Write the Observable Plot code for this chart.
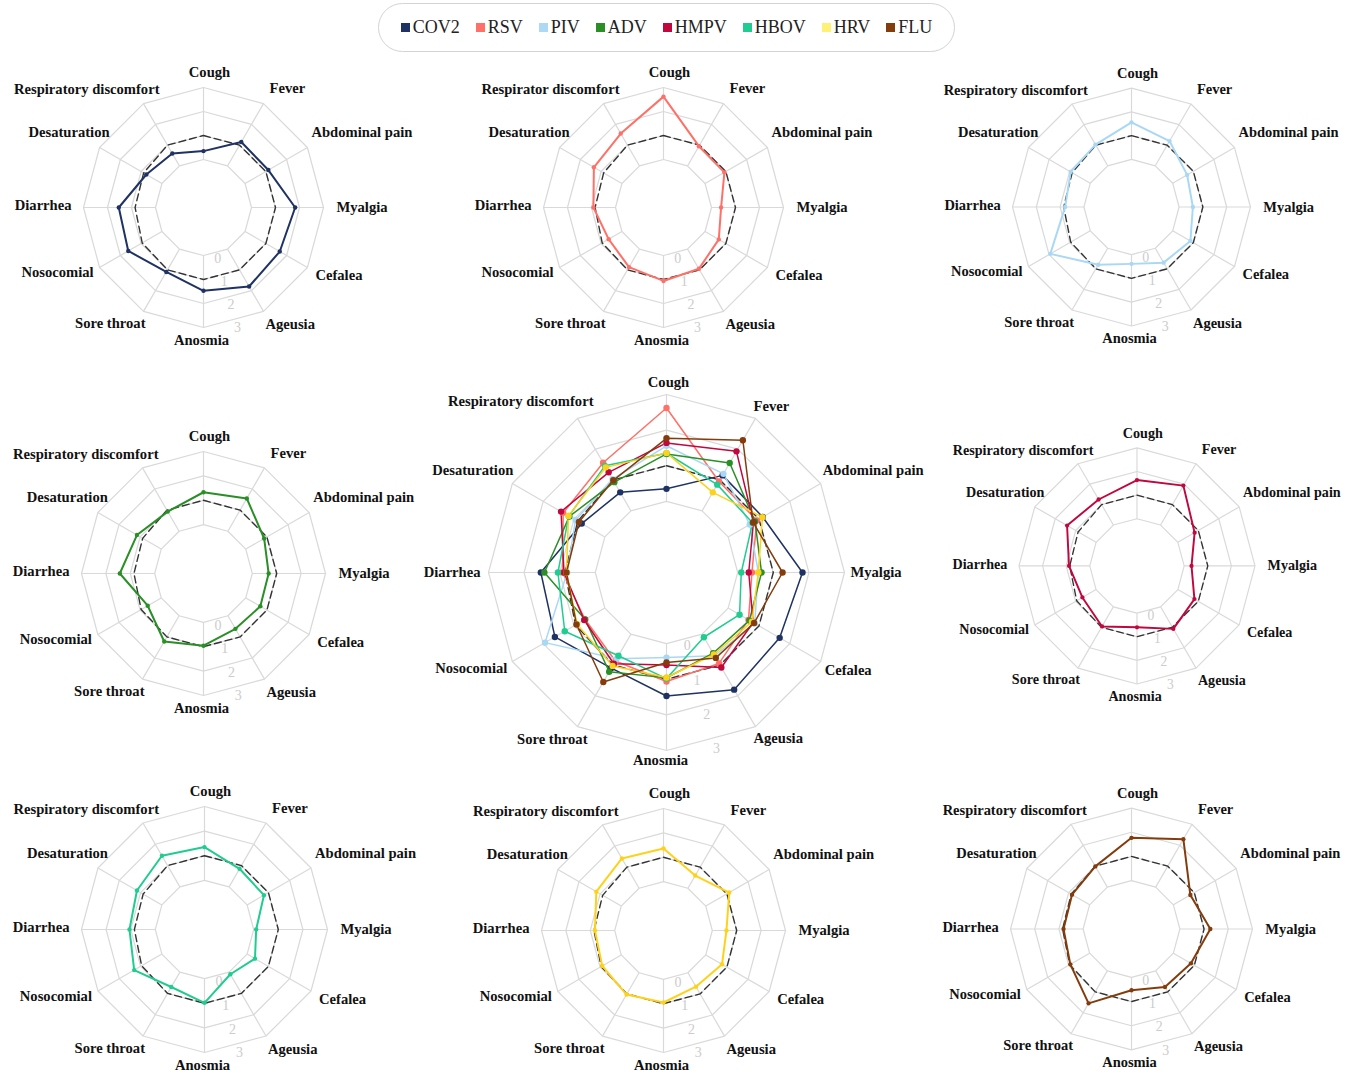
<!DOCTYPE html>
<html><head><meta charset="utf-8">
<script src="https://cdn.jsdelivr.net/npm/d3@7"></script>
<script src="https://cdn.jsdelivr.net/npm/@observablehq/plot@0.6"></script>
<style>
body{margin:0;background:#fff;}
#wrap{position:relative;width:1359px;height:1074px;overflow:hidden;font-family:"Liberation Serif","Times New Roman",serif;}
#legend{position:absolute;left:378px;top:3px;width:577px;height:49px;box-sizing:border-box;border:1.5px solid #d3d3d3;border-radius:25px;display:flex;align-items:center;justify-content:center;gap:16px;font-size:18px;color:#222;}
.item{display:flex;align-items:center;}
.sw{width:9px;height:9px;margin-right:3px;}
.chart{position:absolute;}
</style></head><body><div id="wrap"><div id="legend"></div></div>
<script>
// ---- data ----
const axes = ["Cough","Fever","Abdominal pain","Myalgia","Cefalea","Ageusia","Anosmia","Sore throat","Nosocomial","Diarrhea","Desaturation","Respiratory discomfort"];
const axesRSV = ["Cough","Fever","Abdominal pain","Myalgia","Cefalea","Ageusia","Anosmia","Sore throat","Nosocomial","Diarrhea","Desaturation","Respirator discomfort"];
const viruses = ["COV2","RSV","PIV","ADV","HMPV","HBOV","HRV","FLU"];
const COV2 = [0.35,1.15,1.12,1.82,1.67,1.80,1.47,1.10,1.62,1.53,0.75,0.60];
const RSV  = [2.62,0.95,0.93,0.40,0.66,0.95,1.06,0.87,0.64,0.92,1.35,1.56];
const PIV  = [1.56,1.20,0.70,0.58,0.86,0.70,0.39,0.80,1.94,0.79,0.95,1.03];
const ADV  = [1.33,1.55,0.87,0.67,0.69,0.62,0.96,1.22,0.64,1.43,1.15,0.93];
const HMPV = [1.64,1.93,0.82,0.31,0.81,1.08,0.60,0.96,0.67,0.88,1.42,1.25];
const HBOV = [1.35,0.85,0.79,0.10,0.37,0.10,0.98,0.70,1.30,1.05,1.17,1.46];
const HRV  = [1.36,0.60,1.11,0.58,0.77,0.66,0.95,1.03,0.90,0.81,1.18,1.41];
const FLU  = [1.77,2.29,0.81,1.26,0.84,0.77,0.53,1.55,0.92,0.81,0.84,0.99];
const reference = [1,1,1,1,1,1,1,1,0.95,0.85,0.88,1];
const ticks = [0,1,2,3];
const axisMin = -2;

// ---- styles ----
const seriesValues = {COV2, RSV, PIV, ADV, HMPV, HBOV, HRV, FLU};
const colors = ["#1f3264","#ff7068","#a9d8f5","#2a8f26","#c0073e","#20cc8f","#ffd21a","#843c0c"];
const legendColors = ["#1f3264","#ff7068","#aed9f5","#2a8f26","#c0073e","#20cc8f","#fff176","#843c0c"];
const serif = "'Liberation Serif','Times New Roman',serif";
const smallCfg = [[6,-15,"middle"],[6,-15,"start"],[4,-15,"start"],[13,0,"start"],[8,8,"start"],[2,13,"start"],[-2,13,"middle"],[2,12,"end"],[-6,5,"end"],[-12,-2,"end"],[10,-15,"end"],[16,-14,"end"]];
const bigCfg = [[2,-12,"middle"],[-2,-12,"start"],[2,-13,"start"],[6,0,"start"],[4,9,"start"],[-2,12,"start"],[-6,10,"middle"],[10,13,"end"],[-5,7,"end"],[-8,0,"end"],[1,-13,"end"],[16,-17,"end"]];

const deg = Math.PI/180;
const px = (v,i) => (v - axisMin) * Math.sin(i*30*deg);
const py = (v,i) => (v - axisMin) * Math.cos(i*30*deg);
const rMax = ticks[ticks.length-1] - axisMin;

function radar({names, R, W, H, labels, cfg, lw, dotR}) {
  const cx = W/2, cy = H/2;
  const rows = names.flatMap(n => seriesValues[n].map((v,i) => ({virus:n, i, value:v})));
  const rings = ticks.flatMap(t => axes.map((a,i) => ({t, i})));
  const ref = reference.map((v,i) => ({i, value:v}));
  const labelMarks = labels.map((lab,i) => Plot.text([lab], {
    x: px(ticks[3],i), y: py(ticks[3],i), text: d => d,
    dx: cfg[i][0], dy: cfg[i][1], textAnchor: cfg[i][2],
    fontWeight: "bold", fontSize: 14.6, fontFamily: serif, fill: "#111"
  }));
  return Plot.plot({
    width: W, height: H,
    x: {domain: [-rMax, rMax], range: [cx-R, cx+R], axis: null},
    y: {domain: [-rMax, rMax], range: [cy+R, cy-R], axis: null},
    color: {domain: viruses, range: colors},
    style: {background: "transparent", overflow: "visible", fontFamily: serif},
    marks: [
      Plot.line(rings, {x: d => px(d.t,d.i), y: d => py(d.t,d.i), z: "t", stroke: "#d9d9d9", strokeWidth: 1.2, curve: "linear-closed"}),
      Plot.link(axes, {x1: (d,i) => px(ticks[0],i), y1: (d,i) => py(ticks[0],i), x2: (d,i) => px(ticks[3],i), y2: (d,i) => py(ticks[3],i), stroke: "#d9d9d9", strokeWidth: 1.2}),
      Plot.text(ticks, {x: t => (t-axisMin)*Math.sin(164*deg), y: t => (t-axisMin)*Math.cos(164*deg), text: d => String(d), dx: 1, dy: 5, fill: "#cccccc", fontSize: 14, fontFamily: serif}),
      Plot.line(ref, {x: d => px(d.value,d.i), y: d => py(d.value,d.i), stroke: "#333", strokeDasharray: "7,4", strokeWidth: 1.4, curve: "linear-closed"}),
      Plot.line(rows, {x: d => px(d.value,d.i), y: d => py(d.value,d.i), z: "virus", stroke: "virus", strokeWidth: lw, curve: "linear-closed"}),
      Plot.dot(rows, {x: d => px(d.value,d.i), y: d => py(d.value,d.i), fill: "virus", r: dotR}),
      ...labelMarks
    ]
  });
}

const wrap = document.getElementById("wrap");
const legend = document.getElementById("legend");
viruses.forEach((v,k) => {
  const it = document.createElement("div"); it.className = "item";
  const sw = document.createElement("span"); sw.className = "sw"; sw.style.background = legendColors[k];
  const tx = document.createElement("span"); tx.textContent = v;
  it.appendChild(sw); it.appendChild(tx); legend.appendChild(it);
});

function place(node, cx, cy, W, H) {
  const d = document.createElement("div"); d.className = "chart";
  d.style.left = (cx - W/2) + "px"; d.style.top = (cy - H/2) + "px";
  d.appendChild(node); wrap.appendChild(d);
}

const SW = 460, SH = 340;
const smalls = [
  ["COV2", 203, 207, 120, axes],
  ["RSV", 663, 207, 120, axesRSV],
  ["PIV", 1133, 208, 120, axes],
  ["ADV", 203, 573, 122, axes],
  ["HMPV", 1144, 571, 122, axes],
  ["HBOV", 204, 929, 123, axes],
  ["HRV", 663, 930, 122, axes],
  ["FLU", 1133, 930, 122, axes]
];
smalls.forEach(([n, cx, cy, R, labs]) => {
  place(radar({names:[n], R, W:SW, H:SH, labels: labs, cfg: smallCfg, lw: 2, dotR: 2.2}), cx, cy, SW, SH);
});
const BW = 560, BH = 440;
place(radar({names: viruses, R: 178, W: BW, H: BH, labels: axes, cfg: bigCfg, lw: 1.5, dotR: 3.2}), 666, 572, BW, BH);
</script></body></html>
